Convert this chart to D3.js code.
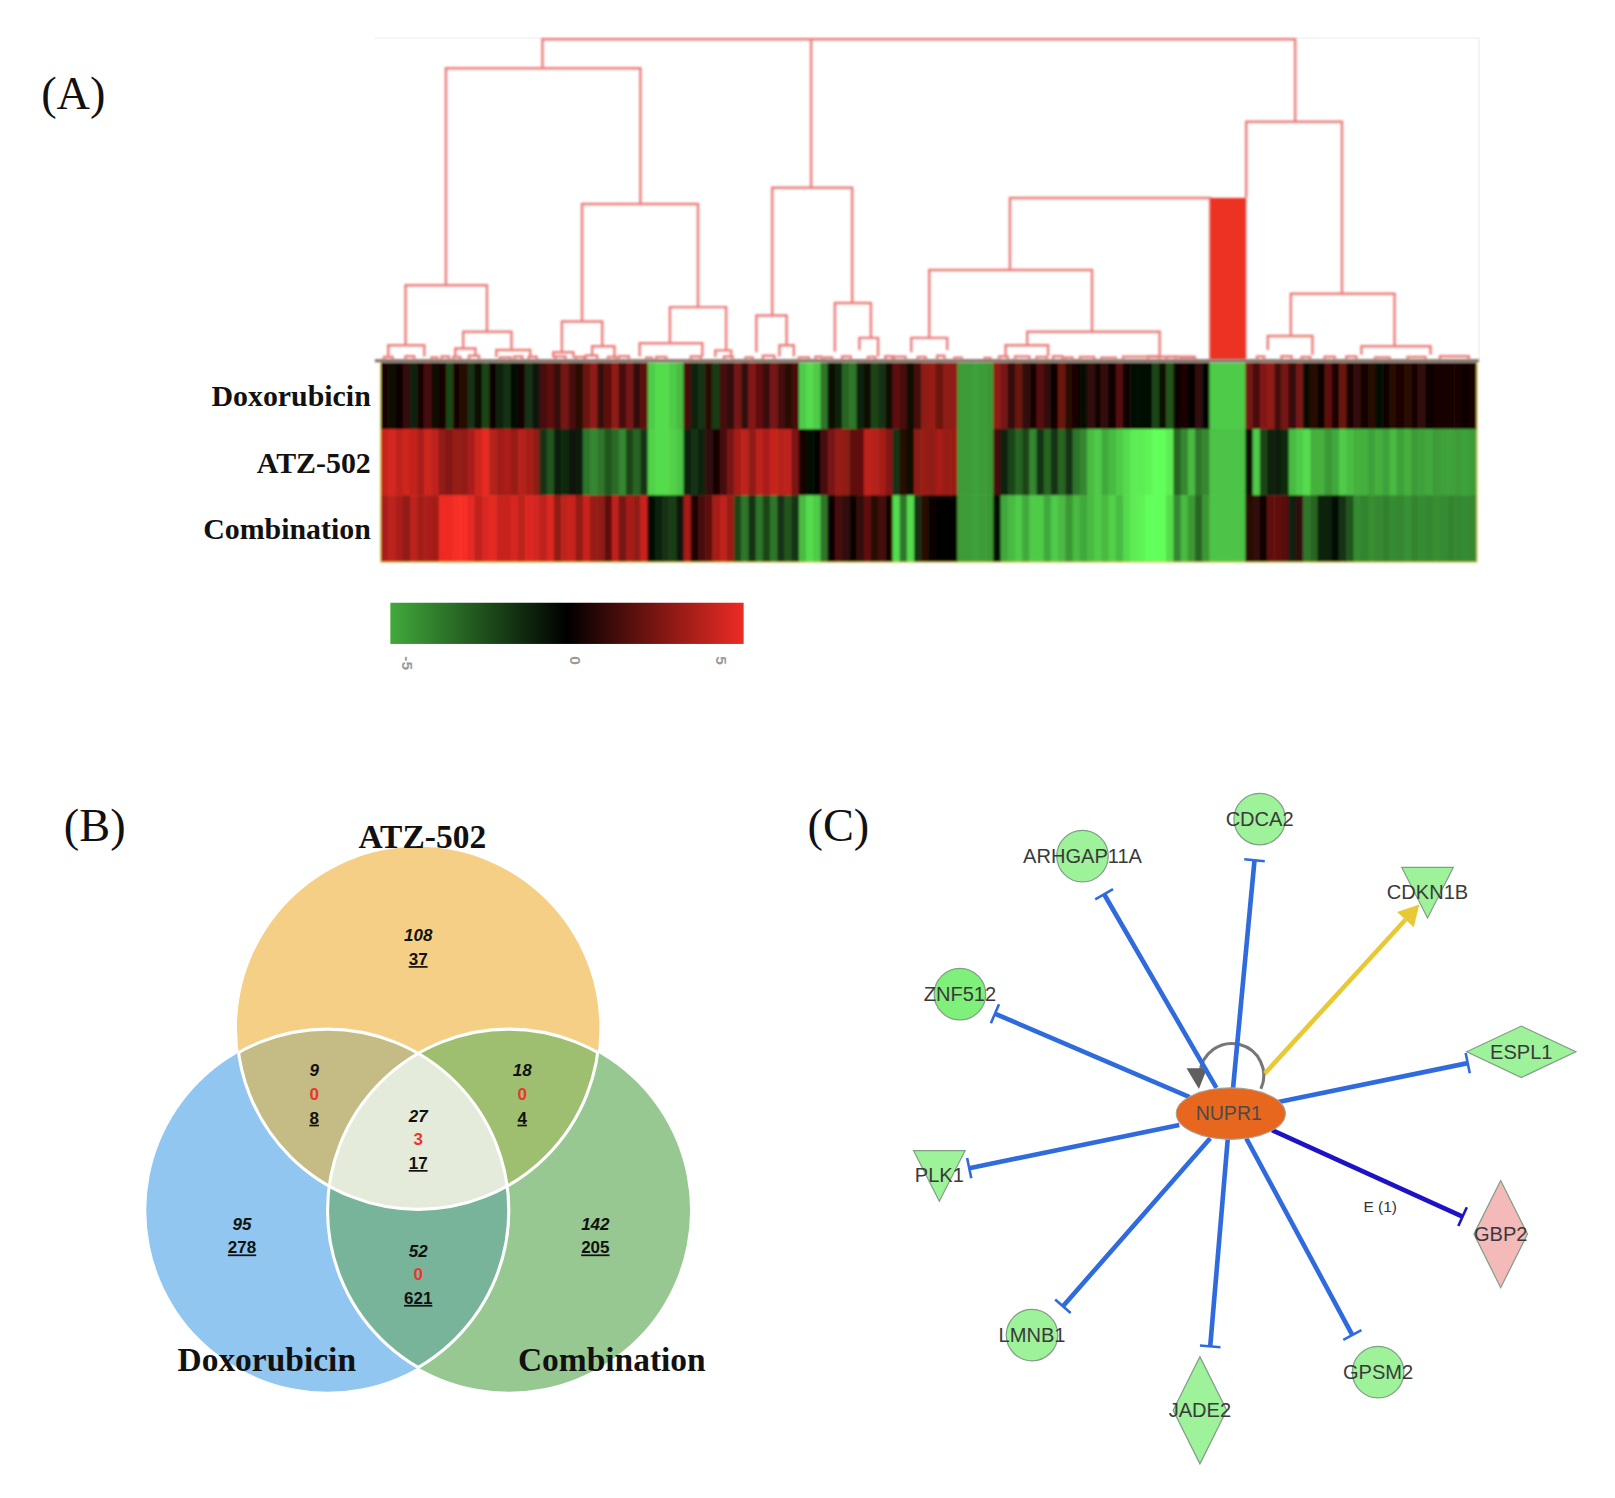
<!DOCTYPE html>
<html>
<head>
<meta charset="utf-8">
<style>
html, body { margin: 0; padding: 0; background: #fff; }
svg { display: block; }
</style>
<script src="https://cdn.jsdelivr.net/npm/d3@7"></script>
</head>
<body>
<div id="main"></div>
<script>
// heatmap rows and columns
var rowNames = ['Doxorubicin', 'ATZ-502', 'Combination'];
var doxValues = [
  0.5,-0.5,0.3,1,-1,0.5,1.5,-0.5,0.5,-2,0.5,0.8,-1.5,-0.5,-2,0.3,-1,-1.5,-0.4,0.5,-1.5,-0.6,
  1.5,2,1.2,2.5,1.5,0.8,2.2,3,1.2,2,3,1.5,2.5,1,2,
  -6,-6.5,-6.5,-6,-5.5,
  1.5,-1,-1.5,0.8,-1.8,1.5,1,
  2.5,1,2.8,2,1.2,2.5,1.5,0.8,1.5,
  -6,-6.5,-6,-3.5,
  -0.5,-1,-3,-3.5,-1,-0.5,-2,-1.5,-0.5,
  2,1.5,-0.5,
  1.5,3,3.2,2.2,3,3,
  -4.6,-4.6,-4.8,-4.6,-4.5,
  3,2.5,1,2.2,1,0.5,1.8,1,0.3,2.2,0.8,0.5,
  -0.2,1,0.5,1,0.3,1.8,0.2,-0.2,-0.3,-0.4,-2,-0.5,-2.5,
  0.2,0.6,-0.1,1,-0.1,
  -6,-6,-6,-6,-6,
  2.5,1.5,2.8,3,1.5,2.5,1,2.5,
  -0.2,0.8,0.3,2,0.5,2.2,0.5,
  1,0.5,0.8,-0.2,0.2,0.8,0.6,0.9,0.5,1,0.3,0.4,0.4,0.5,0.5,0.3,0.4
];
var atzValues = [
  4.2,4.5,4,4.3,4.1,3.6,4.3,4,3,2.8,3.2,3,3.6,4.3,4.9,3.8,3.4,3.6,3.2,3.8,3.5,3,
  -1.5,-2.5,-0.8,-1.2,-0.6,-0.8,-3.5,-4,-3.5,-2.5,-3.2,-4,-2,-3,-1.5,
  -6.2,-6.5,-6.5,-6.2,-5.8,
  -1,-1.5,-1,1,0.5,1.5,2.5,
  3.5,4,3,4,3.6,4.2,3.8,4,2.5,
  0.5,-0.2,-0.1,1.5,
  2.5,3.2,3,2,2,4,3.8,3.5,2.8,
  -1.5,0.8,-0.5,
  3,3.2,3,3.5,3.2,3.2,
  -4.6,-4.6,-4.8,-4.6,-4.5,
  1.5,-1,-2,-3,-2,-4,-1.5,-3,-1.5,-3,-1.5,-3.5,
  -4,-5.5,-6,-5,-5.5,-6,-6.5,-7,-7,-7.2,-7.5,-7.5,-7,
  -3,-4,-5.5,-3.5,-4,
  -5.8,-5.8,-5.8,-5.8,-5.8,
  -0.5,-6,-2,-1,-0.8,-1.2,-5.5,-6,
  -6.5,-5.2,-5.2,-4.5,-5,-6,-5.6,
  -5.2,-5.2,-4.8,-5.2,-4.8,-5.5,-4.8,-5.2,-4.6,-4.8,-5,-4.6,-4.8,-4.8,-4.6,-4.8,-4.6
];
var comboValues = [
  3.6,4,3.6,3,4,3.4,3.6,3.4,5,5,5.2,5.2,4.8,4,4.6,4.8,4.2,4.2,4.5,4,4.6,4.4,
  4,4.6,3,4,4.2,3,4.2,3.2,3,2,4,2.5,3.5,3,4.2,
  -0.3,-1,-1.5,-1.8,-0.6,
  3.5,0.6,1.5,2,3.5,4,3.2,
  -2,-3.5,-1.5,-3.5,-2,-3.5,-1.5,-2.5,-1.5,
  -5.5,-6.5,-6,-3.5,
  0.2,1.5,1,0.2,1,2,0.8,1.5,0.5,
  -6.5,-3.5,-6.5,
  -1.5,0.8,0.2,0,0,0.1,
  -4.6,-4.6,-4.8,-4.6,-4.5,
  -0.2,-5,-5.5,-6,-5,-6,-6,-5,-6,-5.5,-4.5,-5.5,
  -5,-5.5,-6,-5.5,-6.2,-5.5,-6.5,-7,-7.2,-7.5,-7.6,-7.5,-6.5,
  -4,-5.5,-4.5,-3,-4.5,
  -5.8,-5.8,-5.8,-5.8,-5.8,
  0.8,1,0.3,2,2,1.8,-1,1,
  -3.5,-3,-1,-1,-0.3,-1.5,-2.5,
  -4.1,-3.9,-4.2,-4,-3.8,-4.1,-4,-4.3,-3.9,-4.1,-4,-4.2,-4.1,-3.9,-4,-4.1,-4
];
var rowValues = [doxValues, atzValues, comboValues];

// dendrogram merges: columns of the two arms, merge height, height each arm drops to
var branchLeft = [22.4,59.7,9,3.4,1,11.4,10.3,16,27.9,25.1,29.3,23.9,40.1,35.9,46.4,54.3,52.1,55.3,63,66.4,87.3,120.1,76.1,73.6,89.7,86.7,126.3,123.1,136.1,
  0.4,3.4,7,8.4,10,12.2,16.5,18.5,20.5,24.2,27,28.4,31.5,33,36.8,38.2,43,47.6,50.6,53,58,60.3,61.6,64,67.6,70,71.2,74.5,77.2,79.6,83.8,85.8,88,91,93.3,95,97,100,103,106.5,109,111,121.6,125,127.8,131,134,138,142.5,147];
var branchRight = [126.9,59.7,36,14.7,6,18.1,13.1,20.7,44,30.7,32.4,26.7,47.9,44.6,48.6,65.4,56.3,57.3,68,69,115.1,133.4,98.7,78.6,108.1,92.6,140.7,129.3,145.7,
  1.6,4.6,7.8,9.4,11,13.6,18,19.6,21.6,25.6,28.2,30,32.6,34.4,37.6,39.6,44.4,48.8,51.6,54.6,59.4,61.2,62.6,65.2,68.6,71,72.8,75.6,78.2,80.6,84.6,87,90,92.4,94.6,96,99,102,112.9,108,110.4,113,122.6,126.4,129,132.4,135.4,140,145,151];
var branchHeight = [100,100,91,23.2,4.5,8.7,3.5,3,48.6,11.9,4.2,2.3,16.4,5.1,2.9,53.7,13.8,4.5,17.7,6.8,50.5,74.3,28,6.8,8.7,4.5,20.6,7.4,4.2,
  0.8,1.1,0.7,1,0.8,1.2,0.7,1,0.9,1,0.8,1.3,0.8,1.1,0.6,0.8,1,1,0.7,1.2,0.7,0.9,0.7,1,0.8,1.1,0.9,0.8,1.2,0.6,0.5,1,1,0.8,1.1,0.7,0.8,0.6,0.9,1,0.8,0.5,1,1.1,0.8,0.9,1,0.7,0.8,1.1];
var dropLeft = [91,53.7,23.2,4.5,1,3.5,0.8,0.8,11.9,2.3,1,0.6,5.1,1,0.8,13.8,2.3,1,2.5,3,28,50.5,6.8,2.3,4.5,1,7.4,3,1.5,
  0,0,0,0,0,0,0,0,0,0,0,0,0,0,0,0,0,0,0,0,0,0,0,0,0,0,0,0,0,0,0,0,0,0,0,0,0,0,0,0,0,0,0,0,0,0,0,0,0,0];
var dropRight = [74.3,53.7,48.6,8.7,1,3,0.8,0.8,16.4,4.2,1,0.6,2.9,1,0.8,17.7,4.5,1,6.8,1,0,20.6,8.7,3,0.8,1,4.2,1.5,1.5,
  0,0,0,0,0,0,0,0,0,0,0,0,0,0,0,0,0,0,0,0,0,0,0,0,0,0,0,0,0,0,0,0,0,0,0,0,0,0,0,0,0,0,0,0,0,0,0,0,0,0];
// the solid block in the dendrogram: columns packed too tight to separate
var solidBlockColumns = [115.1, 120.1];
var solidBlockHeight = 50.5;

var legendTicks = [-5, 0, 5];

// venn diagram
var vennNames = ['ATZ-502', 'Doxorubicin', 'Combination'];
var vennItalic = [108, 9, 18, 27, 95, 142, 52];
var vennRed = [null, 0, 0, 3, null, null, 0];
var vennUnderlined = [37, 8, 4, 17, 278, 205, 621];

// network
var geneNames = ['ARHGAP11A', 'CDCA2', 'CDKN1B', 'ZNF512', 'ESPL1', 'PLK1', 'GBP2', 'LMNB1', 'JADE2', 'GPSM2'];
var geneShapes = ['circle', 'circle', 'triangle', 'circle', 'wide', 'triangle', 'tall', 'circle', 'tall', 'circle'];
var geneKinds = ['down', 'down', 'down', 'strong', 'down', 'down', 'up', 'down', 'down', 'down'];
var geneEdges = ['inhibit', 'inhibit', 'activate', 'inhibit', 'inhibit', 'inhibit', 'strong', 'inhibit', 'inhibit', 'inhibit'];

var serif = '"Liberation Serif", "Times New Roman", serif';
var sans = '"Liberation Sans", Arial, sans-serif';
var w = 1568, h = 1454;

var svg = d3.select('#main').append('svg')
    .attr('width', 1615).attr('height', 1498)
    .attr('viewBox', '0 0 ' + w + ' ' + h);
var defs = svg.append('defs');
defs.append('filter').attr('id', 'soft').attr('x', '-2%').attr('y', '-2%').attr('width', '104%').attr('height', '104%')
    .append('feGaussianBlur').attr('stdDeviation', 1);

svg.append('rect').attr('width', w).attr('height', h).attr('fill', '#fff');

function panelLabel(text, x, y) {
  svg.append('text').attr('x', x).attr('y', y)
      .attr('font-family', serif).attr('font-size', 45).attr('fill', '#111')
      .text(text);
}
panelLabel('(A)', 40, 106);
panelLabel('(B)', 62, 816);
panelLabel('(C)', 784, 816);

// ---- panel A ----
var colX = d3.scaleLinear().domain([0, doxValues.length]).range([370, 1433]);
var rowY = d3.scaleBand().domain(rowNames).range([352, 545]);
var treeY = d3.scaleLinear().domain([0, 100]).range([349, 38]);
var heat = d3.scaleLinear().domain([-5, 0, 5]).range(['#41a93c', '#000000', '#ee2b24']);

// faint frame around the dendrogram
svg.append('path').attr('d', 'M364,37H1436V349').attr('fill', 'none').attr('stroke', '#f3f1f1').attr('stroke-width', 1.5);

var tree = svg.append('g').attr('filter', 'url(#soft)');
tree.selectAll('path').data(branchHeight).enter().append('path')
    .attr('d', function(d, i) {
      return 'M' + colX(branchLeft[i]) + ',' + treeY(dropLeft[i]) +
        'V' + treeY(d) + 'H' + colX(branchRight[i]) + 'V' + treeY(dropRight[i]);
    })
    .attr('fill', 'none').attr('stroke', '#ec7f7c').attr('stroke-width', 2.4);
tree.append('rect')
    .attr('x', colX(solidBlockColumns[0])).attr('width', colX(solidBlockColumns[1]) - colX(solidBlockColumns[0]))
    .attr('y', treeY(solidBlockHeight)).attr('height', treeY(0) - treeY(solidBlockHeight))
    .attr('fill', '#ec3323');

var heatG = svg.append('g').attr('filter', 'url(#soft)');
// thin yellow edge the heatmap sits on
heatG.append('rect').attr('x', 369).attr('y', 352).attr('width', 1065.5).attr('height', 194).attr('fill', '#d9cf55');
rowValues.forEach(function(values, r) {
  heatG.append('g').selectAll('rect').data(values).enter().append('rect')
      .attr('x', function(d, i) { return colX(i); })
      .attr('width', colX(1) - colX(0) + 0.4)
      .attr('y', rowY(rowNames[r]))
      .attr('height', rowY.bandwidth() + (r < 2 ? 0.4 : 0))
      .attr('fill', function(d) { return heat(d); });
});
// baseline between dendrogram and heatmap
heatG.append('line').attr('x1', 364).attr('x2', 1436).attr('y1', 350).attr('y2', 350)
    .attr('stroke', '#7d6a62').attr('stroke-width', 3);

svg.append('g').selectAll('text').data(rowNames).enter().append('text')
    .attr('x', 360)
    .attr('y', function(d) { return rowY(d) + rowY.bandwidth() / 2; })
    .attr('dy', '0.35em')
    .attr('text-anchor', 'end')
    .attr('font-family', serif).attr('font-weight', 'bold').attr('font-size', 29).attr('fill', '#111')
    .text(function(d) { return d; });

// colour key
var legendX = d3.scaleLinear().domain(legendTicks).range([395, 558, 700]);
var grad = defs.append('linearGradient').attr('id', 'key');
legendTicks.forEach(function(t, i) {
  grad.append('stop').attr('offset', (i * 50) + '%').attr('stop-color', heat(t));
});
svg.append('rect').attr('x', 379).attr('y', 585).attr('width', 343).attr('height', 40)
    .attr('fill', 'url(#key)');
var keyAxis = svg.append('g').attr('transform', 'translate(0,632)')
    .call(d3.axisBottom(legendX).tickValues(legendTicks).tickSize(0).tickFormat(d3.format('d')));
keyAxis.select('.domain').remove();
keyAxis.selectAll('text')
    .attr('transform', 'rotate(90)')
    .attr('x', 5).attr('y', 0).attr('dy', '0.35em')
    .attr('text-anchor', 'start')
    .attr('font-family', sans).attr('font-weight', 'bold').attr('font-size', 15).attr('fill', '#9a9a9a')
    .text(function(d) { return d === -5 ? '-5' : d; });

// ---- panel B ----
var vennR = 176;
var vennCx = [406, 318, 494], vennCy = [998, 1175, 1175];
var vennFill = ['#f6cf86', '#90c6ef', '#98c892'];
function vennCircle(sel, i) {
  return sel.append('circle').attr('cx', vennCx[i]).attr('cy', vennCy[i]).attr('r', vennR);
}
[0, 1, 2].forEach(function(i) {
  vennCircle(defs.append('clipPath').attr('id', 'only' + i), i);
  var other = defs.append('clipPath').attr('id', 'others' + i);
  [0, 1, 2].forEach(function(j) { if (j !== i) vennCircle(other, j); });
});
[0, 1, 2].forEach(function(i) { vennCircle(svg, i).attr('fill', vennFill[i]); });
function overlap(a, b, fill) {
  vennCircle(svg.append('g').attr('clip-path', 'url(#only' + a + ')'), b).attr('fill', fill);
}
overlap(0, 1, '#c4bb85');
overlap(0, 2, '#9fbf70');
overlap(1, 2, '#78b49a');
vennCircle(svg.append('g').attr('clip-path', 'url(#only0)').append('g').attr('clip-path', 'url(#only1)'), 2)
    .attr('fill', '#e4ebdb');
[0, 1, 2].forEach(function(i) {
  vennCircle(svg.append('g').attr('clip-path', 'url(#others' + i + ')'), i)
      .attr('fill', 'none').attr('stroke', '#fff').attr('stroke-width', 3);
});

var countX = [406, 305, 507, 406, 235, 578, 406];
var countY = [908, 1039, 1039, 1083, 1188, 1188, 1214];
function vennCount(i, line, value, style) {
  var t = svg.append('text').attr('x', countX[i]).attr('y', countY[i] + line * 23)
      .attr('dy', '0.35em').attr('text-anchor', 'middle')
      .attr('font-family', sans).attr('font-weight', 'bold').attr('font-size', 16.5)
      .attr('fill', '#111').text(value);
  if (style === 'italic') t.attr('font-style', 'italic');
  if (style === 'red') t.attr('fill', '#e8382c');
  if (style === 'under') t.attr('text-decoration', 'underline');
}
vennItalic.forEach(function(v, i) {
  vennCount(i, 0, v, 'italic');
  if (vennRed[i] === null) {
    vennCount(i, 1, vennUnderlined[i], 'under');
  } else {
    vennCount(i, 1, vennRed[i], 'red');
    vennCount(i, 2, vennUnderlined[i], 'under');
  }
});
var vennLabelX = [410, 259, 594], vennLabelY = [823, 1331, 1331];
svg.append('g').selectAll('text').data(vennNames).enter().append('text')
    .attr('x', function(d, i) { return vennLabelX[i]; })
    .attr('y', function(d, i) { return vennLabelY[i]; })
    .attr('text-anchor', 'middle')
    .attr('font-family', serif).attr('font-weight', 'bold').attr('font-size', 32.5).attr('fill', '#111')
    .text(function(d) { return d; });

// ---- panel C ----
var hubX = 1195, hubY = 1081;
var geneX = [1051, 1223, 1386, 932, 1477, 912, 1457, 1002, 1165, 1338];
var geneY = [831, 795, 858, 965, 1021, 1133, 1198, 1296, 1369, 1332];
var labelDy = [0, 0, 8, 0, 0, 8, 0, 0, 0, 0];
var edgeFromX = [1181, 1197, 1228, 1155, 1240, 1145, 1235, 1175, 1192, 1210];
var edgeFromY = [1056, 1058, 1042, 1065, 1070, 1092, 1097, 1105, 1106, 1105];
var edgeToX = [1072, 1218, 1378, 966, 1425, 941, 1420, 1032, 1175, 1313];
var edgeToY = [868, 835, 878, 984, 1032, 1134, 1181, 1268, 1307, 1296];
var kindFill = {down: '#9df29a', strong: '#7ff07a', up: '#f4b9b9'};

// self loop drawn first so the hub covers its foot
svg.append('path')
    .attr('d', d3.arc()({innerRadius: 31, outerRadius: 31, startAngle: -1.5, endAngle: 2.0}))
    .attr('transform', 'translate(1196,1044)')
    .attr('fill', 'none').attr('stroke', '#777').attr('stroke-width', 3);
svg.append('path').attr('d', 'M1152,1037L1172,1037L1164,1057Z').attr('fill', '#5f5f5f');

geneNames.forEach(function(name, i) {
  var x1 = edgeFromX[i], y1 = edgeFromY[i], x2 = edgeToX[i], y2 = edgeToY[i];
  var dx = x2 - x1, dy = y2 - y1, len = Math.sqrt(dx * dx + dy * dy);
  var ux = dx / len, uy = dy / len;
  var kind = geneEdges[i];
  var color = kind === 'activate' ? '#e8c935' : kind === 'strong' ? '#1e12c6' : '#2f6bdc';
  if (kind === 'activate') {
    var a = 20, b = 11;
    svg.append('line').attr('x1', x1).attr('y1', y1).attr('x2', x2 - ux * a).attr('y2', y2 - uy * a)
        .attr('stroke', color).attr('stroke-width', 4.5);
    svg.append('path').attr('fill', color).attr('d',
      'M' + x2 + ',' + y2 +
      'L' + (x2 - ux * a - uy * b) + ',' + (y2 - uy * a + ux * b) +
      'L' + (x2 - ux * a + uy * b) + ',' + (y2 - uy * a - ux * b) + 'Z');
  } else {
    svg.append('line').attr('x1', x1).attr('y1', y1).attr('x2', x2).attr('y2', y2)
        .attr('stroke', color).attr('stroke-width', 4.5);
    svg.append('line')
        .attr('x1', x2 - uy * 10).attr('y1', y2 + ux * 10)
        .attr('x2', x2 + uy * 10).attr('y2', y2 - ux * 10)
        .attr('stroke', color).attr('stroke-width', 2.5);
  }
});

svg.append('ellipse').attr('cx', hubX).attr('cy', hubY).attr('rx', 53).attr('ry', 25)
    .attr('fill', '#e8671e').attr('stroke', '#a9a08f').attr('stroke-width', 1);
svg.append('text').attr('x', hubX - 2).attr('y', hubY).attr('dy', '0.35em').attr('text-anchor', 'middle')
    .attr('font-family', sans).attr('font-size', 19).attr('fill', '#4a4a4a').text('NUPR1');

var shapePath = {
  triangle: function(x, y) { return 'M' + (x - 25) + ',' + (y - 16) + 'H' + (x + 25) + 'L' + x + ',' + (y + 33) + 'Z'; },
  wide: function(x, y) { return 'M' + (x - 53) + ',' + y + 'L' + x + ',' + (y - 25) + 'L' + (x + 53) + ',' + y + 'L' + x + ',' + (y + 25) + 'Z'; },
  tall: function(x, y) { return 'M' + (x - 26) + ',' + y + 'L' + x + ',' + (y - 52) + 'L' + (x + 26) + ',' + y + 'L' + x + ',' + (y + 52) + 'Z'; }
};
geneNames.forEach(function(name, i) {
  var x = geneX[i], y = geneY[i], fill = kindFill[geneKinds[i]];
  var shape = geneShapes[i] === 'circle'
    ? svg.append('circle').attr('cx', x).attr('cy', y).attr('r', 25)
    : svg.append('path').attr('d', shapePath[geneShapes[i]](x, y));
  shape.attr('fill', fill).attr('stroke', '#7f9f86').attr('stroke-width', 1.2);
  svg.append('text').attr('x', x).attr('y', y + labelDy[i]).attr('dy', '0.35em')
      .attr('text-anchor', 'middle').attr('font-family', sans).attr('font-size', 19.5)
      .attr('fill', '#3a3a3a').text(name);
});
svg.append('text').attr('x', 1340).attr('y', 1171).attr('dy', '0.35em').attr('text-anchor', 'middle')
    .attr('font-family', sans).attr('font-size', 15).attr('fill', '#333').text('E (1)');
</script>
</body>
</html>
